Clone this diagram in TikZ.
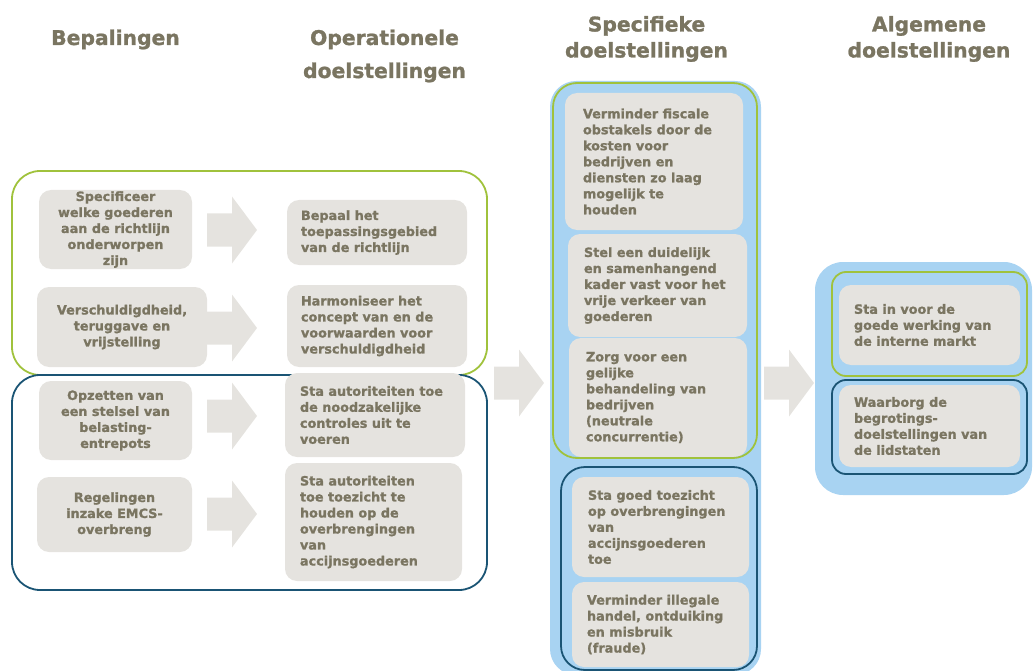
\documentclass[tikz,border=0pt]{standalone}
\usepackage{fontspec}
\setmainfont{DejaVu Sans}[BoldFeatures={FakeBold=1.2}]
\definecolor{txt}{RGB}{122,117,97}
\definecolor{boxgray}{RGB}{229,227,223}
\definecolor{skyblue}{RGB}{168,211,242}
\definecolor{leafgreen}{RGB}{160,194,60}
\definecolor{navy}{RGB}{26,84,116}
\begin{document}
\begin{tikzpicture}[x=1pt,y=-1pt,
  every node/.style={font=\bfseries\fontsize{12.8}{16}\selectfont, text=txt, inner sep=0pt, outer sep=0pt},
  heading/.style={font=\bfseries\fontsize{20.3}{25}\selectfont, text=txt, anchor=base},
  card/.style={fill=boxgray, rounded corners=12pt},
  panel/.style={fill=skyblue, rounded corners=26pt},
  greenframe/.style={draw=leafgreen, line width=1.8pt, rounded corners=#1},
  blueframe/.style={draw=navy, line width=1.8pt, rounded corners=#1},
  ctext/.style={align=center},
  ltext/.style={align=left, anchor=west},
  blockarrow/.pic={\fill[boxgray] (0,-16.5) -- (25,-16.5) -- (25,-33.5) -- (50,0) -- (25,33.5) -- (25,16.5) -- (0,16.5) -- cycle;}
]
\useasboundingbox (0,0) rectangle (1033,671);
\begin{scope}
\clip (0,0) rectangle (1033,671);

% column headings
\node[heading] (h1) at (115.5,45) {Bepalingen};
\node[heading] (h2a) at (384.5,45) {Operationele};
\node[heading] (h2b) at (384.5,78) {doelstellingen};
\node[heading] (h3a) at (646.5,31.5) {Specifieke};
\node[heading] (h3b) at (646.5,57.5) {doelstellingen};
\node[heading] (h4a) at (929,31.5) {Algemene};
\node[heading] (h4b) at (929,57.5) {doelstellingen};

% left groups
\node[greenframe=28pt, minimum width=475pt, minimum height=204pt] (gl) at (249.5,273) {};
\node[blueframe=28pt, minimum width=475pt, minimum height=215pt] (bl) at (249.5,482.5) {};

% provisions
\node[card, minimum width=153pt, minimum height=79pt] (l1) at (115.5,229.5) {};
\node[card, minimum width=170pt, minimum height=80pt] (l2) at (122,327) {};
\node[card, minimum width=153pt, minimum height=79pt] (l3) at (115.5,420.5) {};
\node[card, minimum width=155pt, minimum height=75pt] (l4) at (114.5,514.5) {};
\node[ctext] (t1) at (l1.center) {Specificeer\\welke goederen\\aan de richtlijn\\onderworpen\\zijn};
\node[ctext] (t2) at (l2.center) {Verschuldigdheid,\\teruggave en\\vrijstelling};
\node[ctext] (t3) at (l3.center) {Opzetten van\\een stelsel van\\belasting-\\entrepots};
\node[ctext] (t4) at (l4.center) {Regelingen\\inzake EMCS-\\overbreng};

% operational objectives
\node[card, minimum width=180pt, minimum height=65pt] (r1) at (377,232.5) {};
\node[card, minimum width=180pt, minimum height=82pt] (r2) at (377,326) {};
\node[card, minimum width=180pt, minimum height=84pt] (r3) at (375,415) {};
\node[card, minimum width=177pt, minimum height=118pt] (r4) at (373.5,522) {};
\node[ltext] (u1) at ([xshift=14pt]r1.west) {Bepaal het\\toepassingsgebied\\van de richtlijn};
\node[ltext] (u2) at ([xshift=14pt]r2.west) {Harmoniseer het\\concept van en de\\voorwaarden voor\\verschuldigdheid};
\node[ltext] (u3) at ([xshift=15pt]r3.west) {Sta autoriteiten toe\\de noodzakelijke\\controles uit te\\voeren};
\node[ltext] (u4) at ([xshift=15pt]r4.west) {Sta autoriteiten\\toe toezicht te\\houden op de\\overbrengingen\\van\\accijnsgoederen};

% arrows from provisions to operational objectives
\pic at (207,230) {blockarrow};
\pic at (207,328) {blockarrow};
\pic at (207,416) {blockarrow};
\pic at (207,514) {blockarrow};

% arrows between columns
\pic at (494,383) {blockarrow};
\pic at (764,383) {blockarrow};

% specific objectives
\node[panel, minimum width=211pt, minimum height=594pt] (sp) at (655.5,378) {};
\node[card, minimum width=178pt, minimum height=137pt] (s1) at (654,161.5) {};
\node[card, minimum width=179pt, minimum height=103pt] (s2) at (657.5,285.5) {};
\node[card, minimum width=178pt, minimum height=119pt] (s3) at (658,397.5) {};
\node[card, minimum width=177pt, minimum height=100pt] (s4) at (660.5,527) {};
\node[card, minimum width=177pt, minimum height=85pt] (s5) at (660.5,624.5) {};
\node[greenframe=24pt, minimum width=204pt, minimum height=375pt] (gs) at (655,270.5) {};
\node[blueframe=24pt, minimum width=196pt, minimum height=203pt] (bs) at (659,568.5) {};
\node[ltext] (v1) at ([xshift=18pt]s1.west) {Verminder fiscale\\obstakels door de\\kosten voor\\bedrijven en\\diensten zo laag\\mogelijk te\\houden};
\node[ltext] (v2) at ([xshift=16pt]s2.west) {Stel een duidelijk\\en samenhangend\\kader vast voor het\\vrije verkeer van\\goederen};
\node[ltext] (v3) at ([xshift=17pt]s3.west) {Zorg voor een\\gelijke\\behandeling van\\bedrijven\\(neutrale\\concurrentie)};
\node[ltext] (v4) at ([xshift=16pt]s4.west) {Sta goed toezicht\\op overbrengingen\\van\\accijnsgoederen\\toe};
\node[ltext] (v5) at ([xshift=15pt]s5.west) {Verminder illegale\\handel, ontduiking\\en misbruik\\(fraude)};

% general objectives
\node[panel, rounded corners=28pt, minimum width=217pt, minimum height=233pt] (gp) at (923.5,378.5) {};
\node[card, minimum width=181pt, minimum height=80pt] (g1) at (929.5,325) {};
\node[card, minimum width=181pt, minimum height=82pt] (g2) at (929.5,426) {};
\node[greenframe=14pt, minimum width=195pt, minimum height=104pt] (gg) at (929.5,324) {};
\node[blueframe=14pt, minimum width=195pt, minimum height=94pt] (bg) at (929.5,427) {};
\node[ltext] (w1) at ([xshift=15pt]g1.west) {Sta in voor de\\goede werking van\\de interne markt};
\node[ltext] (w2) at ([xshift=15pt]g2.west) {Waarborg de\\begrotings-\\doelstellingen van\\de lidstaten};
\end{scope}
\end{tikzpicture}
\end{document}
